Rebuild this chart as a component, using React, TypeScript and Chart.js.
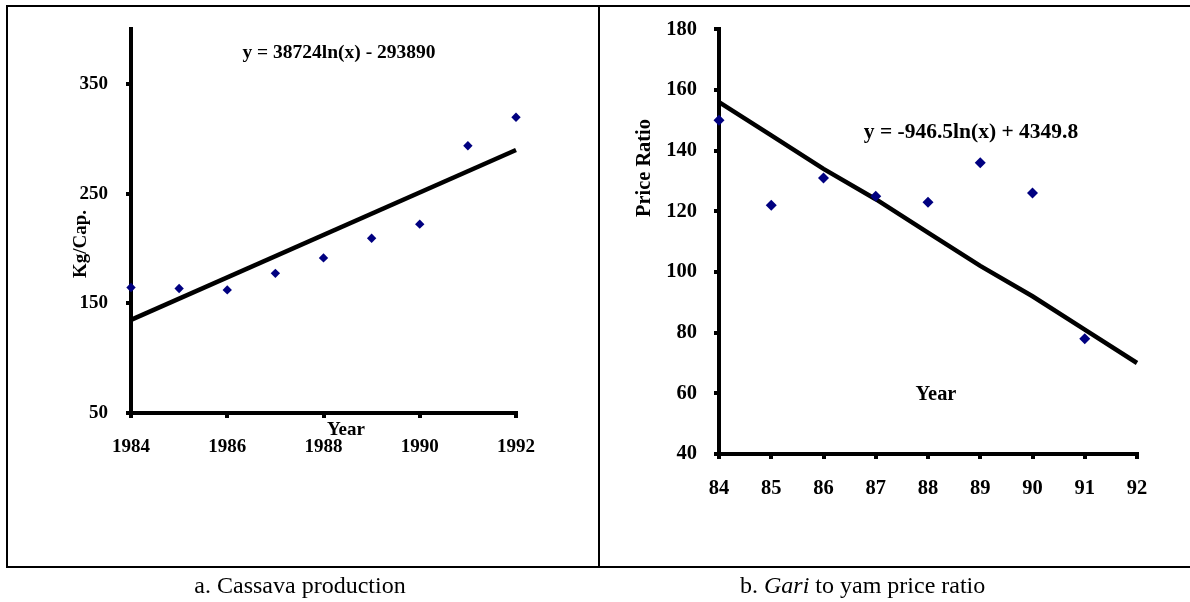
import React, { useEffect, useRef } from 'react';
import { Chart, registerables } from 'chart.js';

Chart.register(...registerables);

// ---------- Data ----------
// a. Cassava production (Kg/Cap.)
const cassavaYears = [1984, 1985, 1986, 1987, 1988, 1989, 1990, 1991, 1992];
const cassavaKgPerCap = [164.5, 163.6, 162.3, 177.4, 191.5, 209.4, 222.3, 293.8, 319.8];
const cassavaTrendYears = [1984, 1992];
const cassavaTrend = [135, 290];
const cassavaXTicks = [1984, 1986, 1988, 1990, 1992];
const cassavaYTicks = [50, 150, 250, 350];
const cassavaEquation = 'y = 38724ln(x) - 293890';

// b. Gari to yam price ratio
const ratioYears = [84, 85, 86, 87, 88, 89, 90, 91];
const ratioValues = [150, 122, 131, 125, 123, 136, 126, 78];
const ratioTrendYears = [84, 85, 86, 87, 88, 89, 90, 91, 92];
const ratioTrend = [156, 145, 134, 124, 113, 102, 92, 81, 70];
const ratioXTicks = [84, 85, 86, 87, 88, 89, 90, 91, 92];
const ratioYTicks = [40, 60, 80, 100, 120, 140, 160, 180];
const ratioEquation = 'y = -946.5ln(x) + 4349.8';

const FONT = '"Liberation Serif", "Times New Roman", serif';
const NAVY = '#000080';

type TextItem = { text: string; x: number; y: number; size: number; rotate?: number; baseline?: CanvasTextBaseline };

function textPlugin(items: TextItem[]) {
  return {
    id: 'panelTexts',
    afterDraw(chart: any) {
      const ctx = chart.ctx as CanvasRenderingContext2D;
      items.forEach((it) => {
        ctx.save();
        ctx.font = `bold ${it.size}px ${FONT}`;
        ctx.fillStyle = '#000';
        ctx.textAlign = 'center';
        ctx.textBaseline = it.baseline || 'alphabetic';
        ctx.translate(it.x, it.y);
        if (it.rotate) ctx.rotate(it.rotate);
        ctx.fillText(it.text, 0, 0);
        ctx.restore();
      });
    },
  };
}

type PanelCfg = {
  xs: number[];
  ys: number[];
  trendXs: number[];
  trendYs: number[];
  xTicks: number[];
  yTicks: number[];
  xMin: number;
  xMax: number;
  yMin: number;
  yMax: number;
  fontSize: number;
  pointRadius: number;
  yWidth: number;
  xHeight: number;
  padRight: number;
  padTop: number;
  yPad: number;
  xPad: number;
  texts: TextItem[];
};

function buildChart(canvas: HTMLCanvasElement, c: PanelCfg) {
  const tickFont = { family: FONT, size: c.fontSize, weight: 'bold' as const };
  const axisCommon = {
    grid: {
      display: true,
      drawOnChartArea: false,
      drawTicks: true,
      tickLength: 5,
      lineWidth: 4,
      color: '#000',
    },
    border: { display: true, color: '#000', width: 4 },
  };
  return new Chart(canvas, {
    type: 'scatter',
    data: {
      datasets: [
        {
          label: 'data',
          data: c.xs.map((x, i) => ({ x, y: c.ys[i] })),
          pointStyle: 'rectRot',
          pointRadius: c.pointRadius,
          pointBackgroundColor: NAVY,
          pointBorderColor: NAVY,
          pointBorderWidth: 0,
          showLine: false,
          clip: false as any,
          order: 0,
        },
        {
          label: 'trend',
          data: c.trendXs.map((x, i) => ({ x, y: c.trendYs[i] })),
          showLine: true,
          borderColor: '#000',
          borderWidth: 4.5,
          pointRadius: 0,
          tension: 0,
          clip: false as any,
          order: 1,
        },
      ],
    },
    options: {
      animation: false,
      responsive: false,
      maintainAspectRatio: false,
      layout: { padding: { left: 0, right: c.padRight, top: c.padTop, bottom: 0 } },
      plugins: { legend: { display: false }, tooltip: { enabled: false }, title: { display: false } },
      scales: {
        x: {
          type: 'linear',
          min: c.xMin,
          max: c.xMax,
          afterBuildTicks: (scale: any) => {
            scale.ticks = c.xTicks.map((v) => ({ value: v }));
          },
          afterFit: (scale: any) => {
            scale.height = c.xHeight;
          },
          ticks: {
            color: '#000',
            font: tickFont,
            padding: c.xPad,
            maxRotation: 0,
            autoSkip: false,
            callback: (v: any) => String(v),
          },
          ...axisCommon,
        },
        y: {
          type: 'linear',
          min: c.yMin,
          max: c.yMax,
          afterBuildTicks: (scale: any) => {
            scale.ticks = c.yTicks.map((v) => ({ value: v }));
          },
          afterFit: (scale: any) => {
            scale.width = c.yWidth;
          },
          ticks: {
            color: '#000',
            font: tickFont,
            padding: c.yPad,
            autoSkip: false,
            callback: (v: any) => String(v),
          },
          ...axisCommon,
        },
      },
    } as any,
    plugins: [textPlugin(c.texts)],
  });
}

export default function App() {
  const leftRef = useRef<HTMLCanvasElement>(null);
  const rightRef = useRef<HTMLCanvasElement>(null);

  useEffect(() => {
    document.body.style.margin = '0';
    const left = buildChart(leftRef.current!, {
      xs: cassavaYears,
      ys: cassavaKgPerCap,
      trendXs: cassavaTrendYears,
      trendYs: cassavaTrend,
      xTicks: cassavaXTicks,
      yTicks: cassavaYTicks,
      xMin: 1984,
      xMax: 1992,
      yMin: 50,
      yMax: 400,
      fontSize: 19,
      pointRadius: 4.7,
      yWidth: 131,
      xHeight: 602 - 413,
      padRight: 599 - 516,
      padTop: 25,
      yPad: 18,
      xPad: 18,
      texts: [
        { text: cassavaEquation, x: 339, y: 58, size: 19.5 },
        { text: 'Year', x: 346, y: 435, size: 19 },
        { text: 'Kg/Cap.', x: 81, y: 244, size: 19, rotate: -Math.PI / 2, baseline: 'middle' },
      ],
    });
    const right = buildChart(rightRef.current!, {
      xs: ratioYears,
      ys: ratioValues,
      trendXs: ratioTrendYears,
      trendYs: ratioTrend,
      xTicks: ratioXTicks,
      yTicks: ratioYTicks,
      xMin: 84,
      xMax: 92,
      yMin: 40,
      yMax: 180,
      fontSize: 20.5,
      pointRadius: 5.5,
      yWidth: 119,
      xHeight: 602 - 454,
      padRight: 590 - 537,
      padTop: 24,
      yPad: 17,
      xPad: 17,
      texts: [
        { text: ratioEquation, x: 971 - 600, y: 138, size: 21.5 },
        { text: 'Year', x: 936 - 600, y: 400, size: 20.4 },
        { text: 'Price Ratio', x: 45, y: 168, size: 20.4, rotate: -Math.PI / 2, baseline: 'middle' },
      ],
    });
    return () => {
      left.destroy();
      right.destroy();
    };
  }, []);

  const captionStyle: React.CSSProperties = {
    position: 'absolute',
    top: 573,
    fontFamily: FONT,
    fontSize: 24,
    lineHeight: '24px',
    whiteSpace: 'nowrap',
    color: '#000',
  };

  return (
    <div style={{ position: 'relative', width: 1190, height: 602, overflow: 'hidden', background: '#fff' }}>
      <div
        style={{
          position: 'absolute',
          left: 6,
          top: 5,
          width: 1182,
          height: 559,
          borderTop: '2px solid #000',
          borderBottom: '2px solid #000',
          borderLeft: '2px solid #000',
        }}
      />
      <div style={{ position: 'absolute', left: 598, top: 5, width: 2, height: 563, background: '#000' }} />
      <canvas
        ref={leftRef}
        width={599}
        height={602}
        style={{ position: 'absolute', left: 0, top: 0, width: 599, height: 602, display: 'block' }}
      />
      <canvas
        ref={rightRef}
        width={590}
        height={602}
        style={{ position: 'absolute', left: 600, top: 0, width: 590, height: 602, display: 'block' }}
      />
      <div style={{ ...captionStyle, left: 0, width: 600, textAlign: 'center' }}>a. Cassava production</div>
      <div style={{ ...captionStyle, left: 740 }}>
        b. <i>Gari</i> to yam price ratio
      </div>
    </div>
  );
}
